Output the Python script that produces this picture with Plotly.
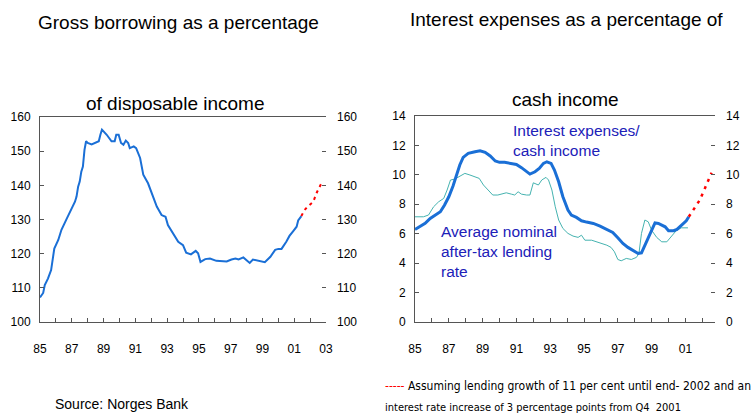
import plotly.graph_objects as go

W, H = 752, 414

# --- left panel: gross borrowing / disposable income (per cent)
borrow_year = [1985.0, 1985.2, 1985.3, 1985.5, 1985.7, 1985.8, 1985.9, 1986.15, 1986.35, 1986.7,
               1987.0, 1987.2, 1987.3, 1987.4, 1987.5, 1987.6, 1987.7, 1987.8, 1987.9, 1988.0,
               1988.25, 1988.55, 1988.7, 1988.8, 1988.9, 1989.2, 1989.5, 1989.7, 1989.8, 1989.95,
               1990.1, 1990.25, 1990.4, 1990.55, 1990.65, 1990.9, 1991.05, 1991.3, 1991.5, 1991.8,
               1992.0, 1992.35, 1992.65, 1992.9, 1993.05, 1993.4, 1993.7, 1994.0, 1994.2, 1994.5,
               1994.8, 1994.95, 1995.1, 1995.4, 1995.7, 1996.1, 1996.75, 1997.05, 1997.3, 1997.5,
               1997.8, 1998.0, 1998.2, 1998.4, 1998.75, 1999.15, 1999.5, 1999.8, 2000.0, 2000.2,
               2000.5, 2000.7, 2000.95, 2001.15, 2001.25, 2001.45]
borrow_pct = [107.2, 108.5, 110.8, 112.7, 115.2, 118.1, 121.5, 124.0, 127.0, 130.4,
              133.3, 135.2, 136.7, 139.6, 141.1, 144.0, 145.5, 150.4, 152.9, 152.4,
              152.0, 152.6, 152.9, 154.8, 156.3, 154.8, 152.9, 152.9, 154.8, 154.8,
              152.4, 151.9, 153.1, 152.4, 150.9, 151.4, 150.9, 148.0, 143.1, 140.6,
              138.2, 133.8, 131.3, 130.8, 128.4, 125.9, 123.5, 122.5, 120.3, 119.8,
              120.8, 120.1, 117.6, 118.4, 118.6, 117.9, 117.7, 118.3, 118.6, 118.3,
              118.9, 118.1, 117.3, 118.3, 117.9, 117.5, 119.1, 121.1, 121.4, 121.4,
              123.5, 125.2, 126.7, 127.9, 129.7, 131.0]
borrow_proj_year = [2001.45, 2001.65, 2001.9, 2002.2, 2002.4, 2002.7]
borrow_proj_pct = [131.0, 132.8, 134.0, 135.2, 137.7, 140.5]

# --- right panel: interest expenses / cash income and lending rate (per cent)
interest_year = [1985.0, 1985.3, 1985.6, 1985.9, 1986.2, 1986.5, 1986.75, 1987.0, 1987.25, 1987.45,
                 1987.65, 1987.85, 1988.15, 1988.55, 1988.85, 1989.15, 1989.45, 1989.75, 1990.0, 1990.3,
                 1990.7, 1991.0, 1991.3, 1991.6, 1991.8, 1992.1, 1992.35, 1992.6, 1992.8, 1993.05,
                 1993.25, 1993.5, 1993.75, 1994.05, 1994.25, 1994.55, 1994.85, 1995.15, 1995.55, 1995.95,
                 1996.35, 1996.7, 1997.0, 1997.3, 1997.6, 1997.9, 1998.2, 1998.4, 1998.6, 1998.8,
                 1999.0, 1999.2, 1999.4, 1999.6, 1999.8, 2000.0, 2000.3, 2000.5, 2000.75, 2001.05,
                 2001.2]
interest_pct = [6.29, 6.47, 6.70, 7.04, 7.27, 7.49, 7.95, 8.51, 9.24, 9.99,
                10.67, 11.19, 11.46, 11.57, 11.64, 11.53, 11.28, 10.94, 10.85, 10.85,
                10.78, 10.71, 10.49, 10.21, 10.05, 10.21, 10.44, 10.78, 10.89, 10.78,
                10.33, 9.53, 8.51, 7.61, 7.27, 7.11, 6.88, 6.79, 6.70, 6.52,
                6.31, 6.09, 5.72, 5.34, 5.07, 4.84, 4.66, 4.70, 5.22, 5.75,
                6.29, 6.74, 6.70, 6.58, 6.47, 6.20, 6.20, 6.29, 6.58, 6.88,
                7.15]
interest_proj_year = [2001.2, 2001.55, 2001.85, 2002.15, 2002.35, 2002.55]
interest_proj_pct = [7.15, 7.72, 8.29, 9.08, 9.65, 10.15]

rate_year = [1985.0, 1985.5, 1985.8, 1986.1, 1986.4, 1986.7, 1986.9, 1987.1, 1987.35, 1987.65,
             1987.95, 1988.25, 1988.55, 1988.8, 1989.05, 1989.35, 1989.6, 1989.9, 1990.2, 1990.4,
             1990.7, 1990.9, 1991.1, 1991.3, 1991.6, 1991.8, 1992.0, 1992.3, 1992.5, 1992.75,
             1992.9, 1993.1, 1993.3, 1993.5, 1993.75, 1994.05, 1994.35, 1994.65, 1994.85, 1995.05,
             1995.45, 1995.95, 1996.35, 1996.6, 1996.8, 1997.0, 1997.2, 1997.5, 1997.8, 1998.1,
             1998.25, 1998.4, 1998.6, 1998.8, 1999.0, 1999.3, 1999.6, 1999.9, 2000.15, 2000.45,
             2000.75, 2001.15]
rate_pct = [7.15, 7.15, 7.27, 7.83, 8.17, 8.40, 8.97, 9.65, 9.71, 9.92,
            10.10, 9.99, 9.87, 9.76, 9.31, 8.92, 8.63, 8.63, 8.69, 8.78,
            8.69, 8.63, 8.85, 8.69, 8.63, 8.63, 9.46, 9.31, 9.65, 9.83,
            9.65, 8.97, 7.83, 6.93, 6.36, 6.02, 5.84, 5.75, 5.90, 5.56,
            5.56, 5.38, 5.22, 5.07, 4.77, 4.25, 4.16, 4.32, 4.25, 4.39,
            4.66, 6.02, 6.93, 6.81, 6.24, 5.75, 5.45, 5.45, 5.79, 6.20,
            6.40, 6.40]

# axis ticks: one per year, labels every second year
tick_years = list(range(1985, 2004))
tick_labels = ["85", "", "87", "", "89", "", "91", "", "93", "", "95", "", "97", "", "99", "",
               "01", "", "03"]
left_yticks = [100, 110, 120, 130, 140, 150, 160]
right_yticks = [0, 2, 4, 6, 8, 10, 12, 14]

BLUE = "#1a6fd6"
TEAL = "#45b3b0"
RED = "#ff0000"
TXT_BLUE = "#2020b8"
FONT = "Liberation Sans, Arial, sans-serif"
NARROW = "DejaVu Sans Condensed, Liberation Sans Narrow, Arial Narrow, sans-serif"


def px_x(x):
    return x / W


def px_y(y):
    return 1 - y / H


fig = go.Figure()

fig.add_trace(go.Scatter(x=borrow_year, y=borrow_pct, mode="lines",
                         line=dict(color=BLUE, width=2), xaxis="x", yaxis="y"))
fig.add_trace(go.Scatter(x=borrow_proj_year, y=borrow_proj_pct, mode="lines",
                         line=dict(color=RED, width=2, dash="3px,4px"), xaxis="x", yaxis="y"))
fig.add_trace(go.Scatter(x=[1985], y=[100], mode="markers", marker=dict(opacity=0),
                         xaxis="x", yaxis="y2"))

fig.add_trace(go.Scatter(x=rate_year, y=rate_pct, mode="lines",
                         line=dict(color=TEAL, width=1), xaxis="x2", yaxis="y3"))
fig.add_trace(go.Scatter(x=interest_year, y=interest_pct, mode="lines",
                         line=dict(color=BLUE, width=3), xaxis="x2", yaxis="y3"))
fig.add_trace(go.Scatter(x=interest_proj_year, y=interest_proj_pct, mode="lines",
                         line=dict(color=RED, width=2.5, dash="3px,5px"), xaxis="x2", yaxis="y3"))
fig.add_trace(go.Scatter(x=[1985], y=[0], mode="markers", marker=dict(opacity=0),
                         xaxis="x2", yaxis="y4"))

frame = dict(showline=True, linecolor="#555555", linewidth=1, showgrid=False, zeroline=False,
             ticks="inside", ticklen=4, tickcolor="#555555", automargin=False,
             tickfont=dict(family=FONT, size=12, color="#000000"))

xcommon = dict(frame, mirror=True, tickmode="array", tickvals=tick_years, ticktext=tick_labels,
               ticklabelstandoff=16)

fig.update_layout(
    width=W, height=H,
    margin=dict(l=0, r=0, t=0, b=0),
    paper_bgcolor="white", plot_bgcolor="white",
    showlegend=False,
    font=dict(family=FONT, color="#000000"),
    xaxis=dict(xcommon, domain=[px_x(40), px_x(326)], range=[1985, 2003], anchor="y"),
    yaxis=dict(frame, domain=[px_y(322), px_y(117)], range=[100, 160], tickvals=left_yticks,
               anchor="x", ticklabelstandoff=6),
    yaxis2=dict(frame, overlaying="y", side="right", range=[100, 160], tickvals=left_yticks,
                anchor="x", showline=False, ticklabelstandoff=10),
    xaxis2=dict(xcommon, domain=[px_x(415), px_x(715)], range=[1985, 2002.75], anchor="y3"),
    yaxis3=dict(frame, domain=[px_y(322), px_y(116)], range=[0, 14], tickvals=right_yticks,
                anchor="x2", ticklabelstandoff=6),
    yaxis4=dict(frame, overlaying="y3", side="right", range=[0, 14], tickvals=right_yticks,
                anchor="x2", showline=False, ticklabelstandoff=10),
)

notes = [
    ("Gross borrowing as a percentage", 178, 22, "center", 19, FONT, "#000000"),
    ("of disposable income", 175, 103, "center", 19, FONT, "#000000"),
    ("Interest expenses as a percentage of", 566, 20, "center", 19, FONT, "#000000"),
    ("cash income", 565, 100, "center", 19, FONT, "#000000"),
    ("Interest expenses/<br>cash income", 511, 141, "left", 15.5, FONT, TXT_BLUE),
    ("Average nominal<br>after-tax lending<br>rate", 439, 251, "left", 15.5, FONT, TXT_BLUE),
    ("<span style='color:#ff0000'>-----</span> Assuming lending growth of 11 per cent until end- 2002 and an",
     383, 386, "left", 12, NARROW, "#000000"),
    ("interest rate increase of 3 percentage points from Q4  2001", 383, 407, "left", 11, NARROW,
     "#000000"),
    ("Source: Norges Bank", 53, 404, "left", 14, FONT, "#000000"),
]
for text, x, y, align, size, family, color in notes:
    fig.add_annotation(text=text, x=px_x(x), y=px_y(y), xref="paper", yref="paper",
                       xanchor=align, yanchor="middle", align=align, showarrow=False,
                       font=dict(family=family, size=size, color=color))

# page body has a default 8px margin; drop it so the figure fills the window
fig.write_html("out.html", config={"displayModeBar": False},
               post_script="document.body.style.margin='0';"
                           "document.body.style.overflow='hidden';")
